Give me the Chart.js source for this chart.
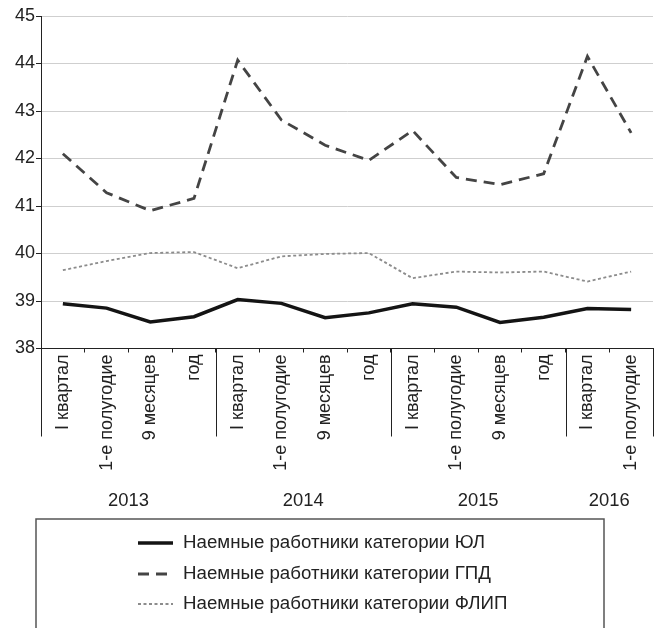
<!DOCTYPE html>
<html>
<head>
<meta charset="utf-8">
<script src="https://cdn.jsdelivr.net/npm/chart.js@4.4.1/dist/chart.umd.min.js"></script>
<style>
  html, body { margin: 0; padding: 0; background: #fff; }
  #wrap { width: 661px; height: 628px; }
</style>
</head>
<body>
<div id="wrap"><canvas id="c" width="661" height="628"></canvas></div>
<script>
// ---- data ----
const categories = [
  'I квартал', '1-е полугодие', '9 месяцев', 'год',
  'I квартал', '1-е полугодие', '9 месяцев', 'год',
  'I квартал', '1-е полугодие', '9 месяцев', 'год',
  'I квартал', '1-е полугодие'
];
const years = ['2013', '2014', '2015', '2016'];
const yearSpans = [4, 4, 4, 2];

const seriesNames = [
  'Наемные работники категории ЮЛ',
  'Наемные работники категории ГПД',
  'Наемные работники категории ФЛИП'
];
const valuesUL   = [38.94, 38.85, 38.56, 38.67, 39.03, 38.95, 38.65, 38.75, 38.94, 38.87, 38.55, 38.66, 38.84, 38.82];
const valuesGPD  = [42.10, 41.28, 40.90, 41.16, 44.07, 42.81, 42.28, 41.96, 42.59, 41.60, 41.45, 41.68, 44.15, 42.54];
const valuesFLIP = [39.65, 39.84, 40.01, 40.03, 39.69, 39.94, 39.99, 40.01, 39.48, 39.62, 39.60, 39.62, 39.41, 39.62];

const yMin = 38, yMax = 45, yStep = 1;

const FONT = "'Liberation Sans', Arial, sans-serif";
const TXT = '#222';

// year separators and labels under the category axis
const yearGroupsPlugin = {
  id: 'yearGroups',
  afterDraw(chart) {
    const ctx = chart.ctx;
    const xs = chart.scales.x;
    const top = xs.top;
    ctx.save();
    ctx.strokeStyle = '#222';
    ctx.lineWidth = 1;
    let start = 0;
    const bounds = [0];
    yearSpans.forEach(s => { start += s; bounds.push(start); });
    bounds.forEach(b => {
      const x = Math.round(xs.getPixelForValue(b - 0.5)) + 0.5;
      ctx.beginPath();
      ctx.moveTo(x, top);
      ctx.lineTo(x, top + 88);
      ctx.stroke();
    });
    ctx.fillStyle = TXT;
    ctx.font = '18.4px ' + FONT;
    ctx.textAlign = 'center';
    ctx.textBaseline = 'middle';
    start = 0;
    years.forEach((y, i) => {
      const c = start + (yearSpans[i] - 1) / 2;
      ctx.fillText(y, xs.getPixelForValue(c), top + 152);
      start += yearSpans[i];
    });
    ctx.restore();
  }
};

// boxed legend below the chart
const boxLegendPlugin = {
  id: 'boxLegend',
  afterDraw(chart) {
    const ctx = chart.ctx;
    ctx.save();
    ctx.strokeStyle = '#555';
    ctx.lineWidth = 1.5;
    ctx.strokeRect(36, 519, 568, 140);
    const rows = [543, 574, 604];
    chart.data.datasets.forEach((ds, i) => {
      const y = rows[i];
      ctx.beginPath();
      ctx.strokeStyle = ds.borderColor;
      ctx.lineWidth = ds.borderWidth;
      ctx.setLineDash(ds.borderDash || []);
      ctx.moveTo(138, y);
      ctx.lineTo(173, y);
      ctx.stroke();
      ctx.setLineDash([]);
      ctx.fillStyle = TXT;
      ctx.font = '18.7px ' + FONT;
      ctx.textAlign = 'left';
      ctx.textBaseline = 'middle';
      ctx.fillText(ds.label, 183, y);
    });
    ctx.restore();
  }
};

new Chart(document.getElementById('c'), {
  type: 'line',
  data: {
    labels: categories,
    datasets: [
      { label: seriesNames[0], data: valuesUL, borderColor: '#141414', borderWidth: 3.5, borderDash: [], pointRadius: 0, tension: 0, fill: false },
      { label: seriesNames[1], data: valuesGPD, borderColor: '#444444', borderWidth: 2.8, borderDash: [11, 7], pointRadius: 0, tension: 0, fill: false },
      { label: seriesNames[2], data: valuesFLIP, borderColor: '#8c8c8c', borderWidth: 1.8, borderDash: [3, 2.5], pointRadius: 0, tension: 0, fill: false }
    ]
  },
  options: {
    responsive: false,
    animation: false,
    devicePixelRatio: 1,
    layout: { padding: { left: 0, right: 8, top: 16, bottom: 0 } },
    plugins: {
      legend: { display: false },
      tooltip: { enabled: false }
    },
    scales: {
      x: {
        type: 'category',
        offset: true,
        grid: { offset: true, drawOnChartArea: false, drawTicks: true, tickLength: 4, color: '#222', lineWidth: 1 },
        border: { display: true, color: '#222', width: 1 },
        ticks: {
          autoSkip: false, minRotation: 90, maxRotation: 90, padding: 2,
          color: TXT, font: { family: FONT, size: 18 }
        },
        afterFit(scale) { scale.height = 279.5; }
      },
      y: {
        min: yMin, max: yMax,
        ticks: { stepSize: yStep, color: TXT, font: { family: FONT, size: 18 }, padding: 1 },
        grid: { color: '#cfcfcf', lineWidth: 1, tickColor: '#222', tickLength: 5 },
        border: { display: true, color: '#222', width: 1 },
        afterFit(scale) { scale.width = 41; }
      }
    }
  },
  plugins: [yearGroupsPlugin, boxLegendPlugin]
});
</script>
</body>
</html>
